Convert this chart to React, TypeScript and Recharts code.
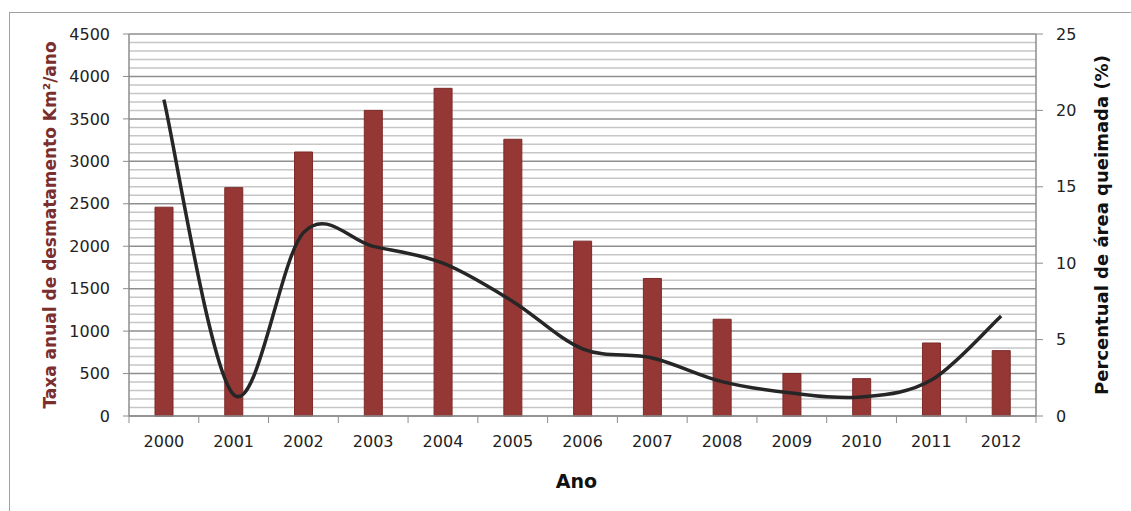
import React from 'react';
import { ComposedChart, Bar, Line, XAxis, YAxis, CartesianGrid } from 'recharts';

const years = ['2000', '2001', '2002', '2003', '2004', '2005', '2006', '2007', '2008', '2009', '2010', '2011', '2012'];
const deforestation = [2460, 2690, 3110, 3600, 3860, 3260, 2060, 1620, 1140, 500, 440, 860, 770];
const burnedPct = [20.7, 1.4, 12.0, 11.1, 10.0, 7.5, 4.4, 3.8, 2.25, 1.5, 1.25, 2.35, 6.55];
const leftTicks = [0, 500, 1000, 1500, 2000, 2500, 3000, 3500, 4000, 4500];
const rightTicks = [0, 5, 10, 15, 20, 25];
const minorGrid = Array.from({ length: 46 }, (_, i) => i * 100).filter((v) => v % 500 !== 0);

const data = years.map((year, i) => ({ year, deforestation: deforestation[i], burned: burnedPct[i] }));

const W = 1131;
const H = 511;
const LEFT_W = 129;
const RIGHT_W = 95;
const TOP = 34;
const X_H = 95;
const HALF_BAND = (W - LEFT_W - RIGHT_W) / years.length / 2;
const FONT = "'DejaVu Sans', sans-serif";
const AXIS_GRAY = '#8c8c8c';

// Catmull-Rom style smoothing (like Excel's smoothed line)
function smoothCurve(context: any) {
  let pts: [number, number][] = [];
  return {
    areaStart() {},
    areaEnd() {},
    lineStart() {
      pts = [];
    },
    point(x: number, y: number) {
      pts.push([+x, +y]);
    },
    lineEnd() {
      const n = pts.length;
      if (!n) return;
      context.moveTo(pts[0][0], pts[0][1]);
      for (let i = 0; i < n - 1; i++) {
        const p0 = pts[Math.max(i - 1, 0)];
        const p1 = pts[i];
        const p2 = pts[i + 1];
        const p3 = pts[Math.min(i + 2, n - 1)];
        context.bezierCurveTo(
          p1[0] + (p2[0] - p0[0]) / 6,
          p1[1] + (p2[1] - p0[1]) / 6,
          p2[0] - (p3[0] - p1[0]) / 6,
          p2[1] - (p3[1] - p1[1]) / 6,
          p2[0],
          p2[1]
        );
      }
    },
  };
}

const XTick = (props: any) => {
  const { x, y, payload, index, visibleTicksCount } = props;
  return (
    <g>
      <line x1={x - HALF_BAND} x2={x - HALF_BAND} y1={y} y2={y + 7} stroke={AXIS_GRAY} strokeWidth={1} />
      {index === visibleTicksCount - 1 && (
        <line x1={x + HALF_BAND} x2={x + HALF_BAND} y1={y} y2={y + 7} stroke={AXIS_GRAY} strokeWidth={1} />
      )}
      <text x={x} y={y + 31} textAnchor="middle" fontFamily={FONT} fontSize={16} fill="#222">
        {payload.value}
      </text>
    </g>
  );
};

export default function App() {
  return (
    <div style={{ position: 'fixed', left: 0, top: 0, width: W, height: H, overflow: 'hidden', background: '#fff' }}>
      <div
        style={{
          position: 'absolute',
          left: 9,
          top: 12,
          width: 1300,
          height: 700,
          borderLeft: '1px solid #a0a0a0',
          borderTop: '1px solid #a0a0a0',
        }}
      />
      <div style={{ position: 'absolute', left: 0, top: 0 }}>
        <ComposedChart width={W} height={H} data={data} margin={{ top: TOP, right: 0, bottom: 0, left: 0 }}>
          <CartesianGrid
            yAxisId="left"
            vertical={false}
            horizontalValues={minorGrid}
            stroke="#c6c6c6"
            strokeWidth={1.5}
          />
          <CartesianGrid
            yAxisId="left"
            vertical={false}
            horizontalValues={leftTicks}
            stroke="#8f8f8f"
            strokeWidth={1.5}
          />
          <XAxis
            dataKey="year"
            height={X_H}
            interval={0}
            tickLine={false}
            tickSize={0}
            tickMargin={0}
            axisLine={{ stroke: AXIS_GRAY, strokeWidth: 1.5 }}
            tick={<XTick />}
            label={(p: any) => {
              const vb = p.viewBox;
              return (
                <text
                  x={vb.x + vb.width / 2 - 6}
                  y={488}
                  textAnchor="middle"
                  fontFamily={FONT}
                  fontWeight="bold"
                  fontSize={19}
                  fill="#111"
                >
                  Ano
                </text>
              );
            }}
          />
          <YAxis
            yAxisId="left"
            orientation="left"
            domain={[0, 4500]}
            ticks={leftTicks}
            interval={0}
            width={LEFT_W}
            tickSize={6}
            tickMargin={13}
            axisLine={{ stroke: AXIS_GRAY, strokeWidth: 1.5 }}
            tickLine={{ stroke: AXIS_GRAY }}
            tick={{ fill: '#222', fontSize: 16, fontFamily: FONT }}
            label={(p: any) => {
              const vb = p.viewBox;
              const cx = 50;
              const cy = vb.y + vb.height / 2;
              return (
                <text
                  x={cx}
                  y={cy}
                  transform={`rotate(-90 ${cx} ${cy})`}
                  textAnchor="middle"
                  dominantBaseline="central"
                  fontFamily={FONT}
                  fontWeight="bold"
                  fontSize={17}
                  fill="#7a2e2e"
                >
                  Taxa anual de desmatamento Km²/ano
                </text>
              );
            }}
          />
          <YAxis
            yAxisId="right"
            orientation="right"
            domain={[0, 25]}
            ticks={rightTicks}
            interval={0}
            width={RIGHT_W}
            tickSize={7}
            tickMargin={13}
            axisLine={{ stroke: AXIS_GRAY, strokeWidth: 1.5 }}
            tickLine={{ stroke: AXIS_GRAY }}
            tick={{ fill: '#222', fontSize: 16, fontFamily: FONT }}
            label={(p: any) => {
              const vb = p.viewBox;
              const cx = 1101;
              const cy = vb.y + vb.height / 2;
              return (
                <text
                  x={cx}
                  y={cy}
                  transform={`rotate(-90 ${cx} ${cy})`}
                  textAnchor="middle"
                  dominantBaseline="central"
                  fontFamily={FONT}
                  fontWeight="bold"
                  fontSize={18}
                  fill="#111"
                >
                  Percentual de área queimada (%)
                </text>
              );
            }}
          />
          <Bar
            yAxisId="left"
            dataKey="deforestation"
            fill="#953735"
            stroke="#7c2b29"
            strokeWidth={1}
            barSize={18}
            isAnimationActive={false}
          />
          <Line
            yAxisId="right"
            dataKey="burned"
            type={smoothCurve as any}
            stroke="#262626"
            strokeWidth={3.5}
            dot={false}
            activeDot={false}
            isAnimationActive={false}
          />
        </ComposedChart>
      </div>
    </div>
  );
}
